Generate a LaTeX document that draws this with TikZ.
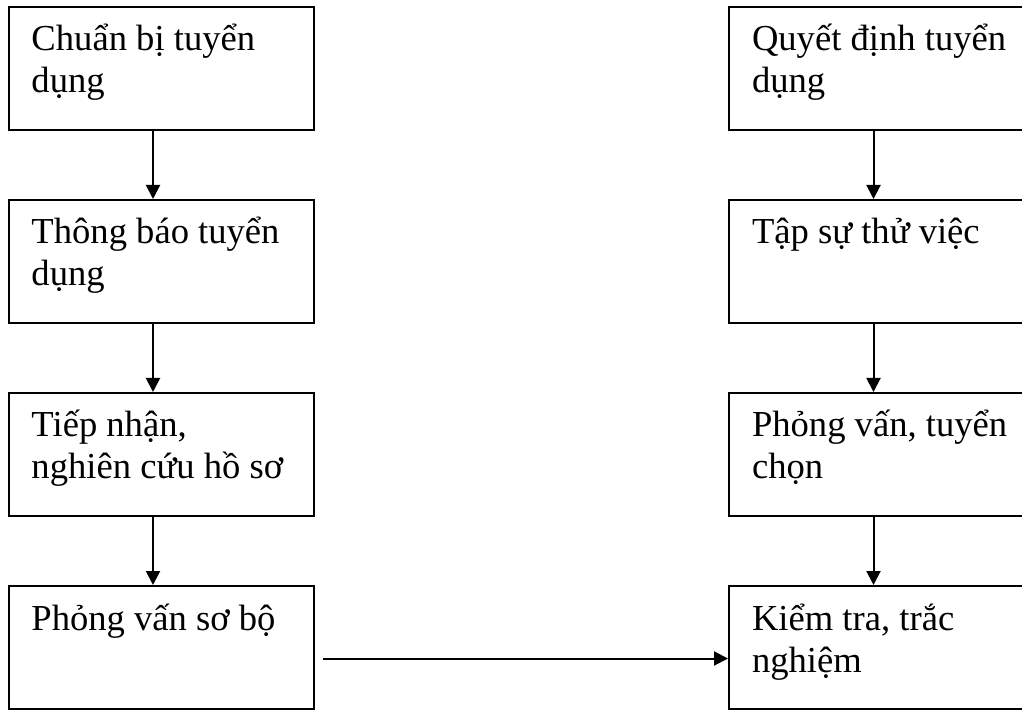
\documentclass[tikz,border=0pt]{standalone}
\usepackage{fontspec}
\setmainfont{Liberation Serif}
\usetikzlibrary{positioning, arrows.meta}
\newcommand{\stepfont}{\fontsize{18.3pt}{21pt}\selectfont}
\newcommand{\steptext}[1]{\parbox[c][61.5pt][t]{129.5pt}{\raggedright\rule{0pt}{22pt}#1}}
\tikzset{
    ->, % Directed edges
    >={Triangle[length=7pt, width=7pt]}, % Filled arrowheads
    every picture/.style={line width=1pt}, % Heavier lines
    node distance=96.5pt, % Distance between steps
    stepbox/.style={draw, rectangle, inner xsep=11.5pt, inner ysep=0pt, font=\stepfont}, % Styling for steps
}

\begin{document}
\begin{tikzpicture}
    \path[use as bounding box, clip] (0,0) rectangle (511pt,-355pt);

    \node[stepbox] (b1) at (80.5pt,-34.25pt) {\steptext{Chuẩn bị tuyển\\dụng}};
    \node[stepbox] (b2) [below of=b1] {\steptext{Thông báo tuyển\\dụng}};
    \node[stepbox] (b3) [below of=b2] {\steptext{Tiếp nhận,\\nghiên cứu hồ sơ}};
    \node[stepbox] (b4) [below of=b3] {\steptext{Phỏng vấn sơ bộ}};

    \node[stepbox] (r1) [right of=b1, node distance=360.25pt] {\steptext{Quyết định tuyển\\dụng}};
    \node[stepbox] (r2) [below of=r1] {\steptext{Tập sự thử việc}};
    \node[stepbox] (r3) [below of=r2] {\steptext{Phỏng vấn, tuyển\\chọn}};
    \node[stepbox] (r4) [below of=r3] {\steptext{Kiểm tra, trắc\\nghiệm}};

    \path
        ([xshift=-4pt]b1.south) edge ([xshift=-4pt]b2.north)
        ([xshift=-4pt]b2.south) edge ([xshift=-4pt]b3.north)
        ([xshift=-4pt]b3.south) edge ([xshift=-4pt]b4.north)
        ([shift={(4pt,-5.5pt)}]b4.east) edge ([yshift=-5.5pt]r4.west)
        ([xshift=-4pt]r1.south) edge ([xshift=-4pt]r2.north)
        ([xshift=-4pt]r2.south) edge ([xshift=-4pt]r3.north)
        ([xshift=-4pt]r3.south) edge ([xshift=-4pt]r4.north);
\end{tikzpicture}
\end{document}
